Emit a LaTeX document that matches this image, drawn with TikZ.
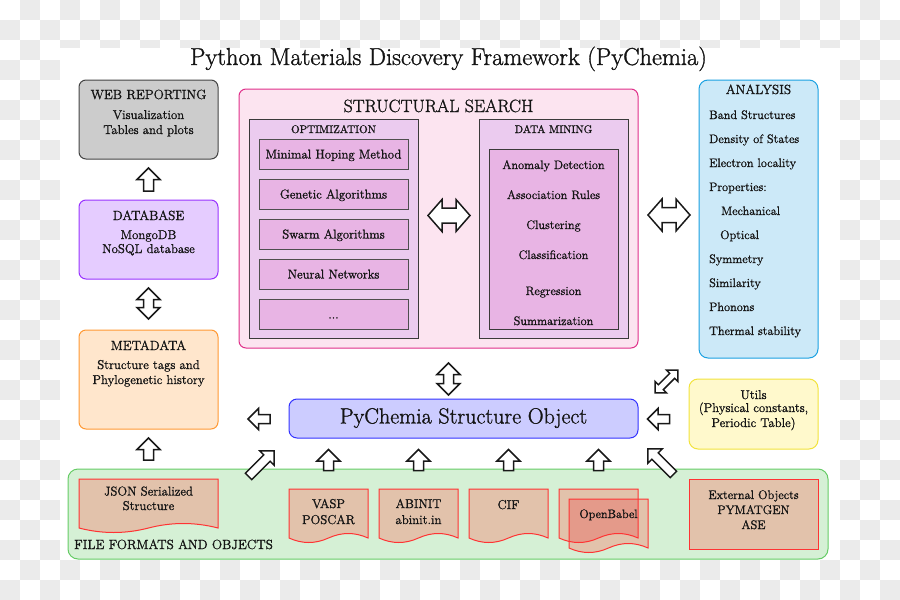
\documentclass[tikz,border=0pt]{standalone}
\usepackage{fontspec}
\setmainfont{Latin Modern Roman}[FakeBold=1.2]
\usetikzlibrary{calc}
\definecolor{chk}{HTML}{EBEBEB}
\definecolor{webF}{HTML}{CCCCCC}\definecolor{webD}{HTML}{444444}
\definecolor{dbF}{HTML}{E5CCFF}\definecolor{dbD}{HTML}{9933FF}
\definecolor{mdF}{HTML}{FFE6CC}\definecolor{mdD}{HTML}{FF9933}
\definecolor{ssF}{HTML}{FCE4F0}\definecolor{ssD}{HTML}{E0308A}
\definecolor{optF}{HTML}{EBCBEF}\definecolor{itemF}{HTML}{E8B4E4}\definecolor{grD}{HTML}{3A3A3A}
\definecolor{anF}{HTML}{CCE9F8}\definecolor{anD}{HTML}{1BA1E2}
\definecolor{utF}{HTML}{FFF9CC}\definecolor{utD}{HTML}{F2E33C}
\definecolor{pyF}{HTML}{CCCCFF}\definecolor{pyD}{HTML}{3333FF}
\definecolor{ffF}{HTML}{D5F0D5}\definecolor{ffD}{HTML}{66CC66}
\definecolor{docF}{HTML}{E2C2AB}\definecolor{docD}{HTML}{FF3333}\definecolor{obF}{HTML}{E49A8A}
\definecolor{ink}{HTML}{141414}
\newcommand\fsz[1]{\fontsize{#1}{#1}\selectfont}
% document shape path: x1, y1(top), x2
\newcommand\docp[3]{({#1},{#2}) -- ({#3},{#2}) -- ({#3},{#2+49})
  .. controls ({#3-(#3-#1)/6},{#2+43}) and ({(#1+#3)/2+(#3-#1)/6},{#2+43}) .. ({(#1+#3)/2},{#2+49})
  .. controls ({(#1+#3)/2-(#3-#1)/6},{#2+55}) and ({#1+(#3-#1)/6},{#2+55}) .. ({#1},{#2+49}) -- cycle}
% single block arrow: x, y, angle, length, head width, stem width
\newcommand\sarrow[6]{\begin{scope}[shift={(#1,#2)},rotate=#3]
 \filldraw[blk] (0,{-#4/2}) -- ({#5/2},{-#4/2+#5/2}) -- ({#6/2},{-#4/2+#5/2}) -- ({#6/2},{#4/2})
  -- ({-#6/2},{#4/2}) -- ({-#6/2},{-#4/2+#5/2}) -- ({-#5/2},{-#4/2+#5/2}) -- cycle;
\end{scope}}
% double block arrow: x, y, angle, length, head width, head length, stem width
\newcommand\darrow[7]{\begin{scope}[shift={(#1,#2)},rotate=#3]
 \filldraw[blk] (0,{-#4/2}) -- ({#5/2},{-#4/2+#6}) -- ({#7/2},{-#4/2+#6}) -- ({#7/2},{#4/2-#6})
  -- ({#5/2},{#4/2-#6}) -- (0,{#4/2}) -- ({-#5/2},{#4/2-#6}) -- ({-#7/2},{#4/2-#6})
  -- ({-#7/2},{-#4/2+#6}) -- ({-#5/2},{-#4/2+#6}) -- cycle;
\end{scope}}
\begin{document}
\begin{tikzpicture}[x=1pt,y=-1pt,
 box/.style={draw, line width=1pt, rounded corners=7pt, inner sep=0pt},
 sq/.style={draw, line width=1pt, inner sep=0pt},
 txt/.style={anchor=base, inner sep=0pt, text=ink, font=\fsz{12.8}},
 hd/.style={txt, font=\fsz{13.3}},
 sm/.style={txt, font=\fsz{11}},
 lt/.style={txt, anchor=base west, font=\fsz{12.3}},
 blk/.style={draw=black!90, fill=white, line width=1.5pt, line join=miter},
 doc/.style={draw=docD, line width=1pt}]
\useasboundingbox (0,0) rectangle (900,600);
% background checkerboard
\fill[white] (0,0) rectangle (900,600);
\foreach \i in {0,...,44}{\foreach \j in {0,...,29}{%
  \pgfmathparse{int(mod(\i+\j,2))}%
  \ifnum\pgfmathresult=1 \fill[chk] (\i*20,\j*20) rectangle ++(20,20);\fi}}
\fill[white] (60,48) rectangle (840,560);
% title
\node[txt, font=\fsz{24.5}] (title) at (448.5,65) {Python Materials Discovery Framework (PyChemia)};
% left column
\node[box, fill=webF, draw=webD, minimum width=139, minimum height=79] (web) at (148.5,119.5) {};
\node[hd] (webT) at (148.5,99) {WEB REPORTING};
\node[txt] (webA) at (148.5,119) {Visualization};
\node[txt] (webB) at (148.5,134) {Tables and plots};
\node[box, fill=dbF, draw=dbD, minimum width=139, minimum height=79] (db) at (148.5,239.5) {};
\node[hd] (dbT) at (148.5,220) {DATABASE};
\node[txt] (dbA) at (148.5,239) {MongoDB};
\node[txt] (dbB) at (148.5,253) {NoSQL database};
\node[box, fill=mdF, draw=mdD, minimum width=139, minimum height=99] (md) at (148.5,379.5) {};
\node[hd] (mdT) at (148.5,350) {METADATA};
\node[txt] (mdA) at (148.5,369) {Structure tags and};
\node[txt] (mdB) at (148.5,384) {Phylogenetic history};
% structural search
\node[box, fill=ssF, draw=ssD, minimum width=399, minimum height=259] (ss) at (438.5,218.5) {};
\node[txt, font=\fsz{17.8}] (ssT) at (438.5,112) {STRUCTURAL SEARCH};
\node[sq, fill=optF, draw=grD, minimum width=169, minimum height=219] (opt) at (333.5,228.5) {};
\node[sm] (optT) at (333.5,133) {OPTIMIZATION};
\foreach \n/\y/\t in {o1/154/Minimal Hoping Method, o2/194/Genetic Algorithms, o3/234/Swarm Algorithms, o4/274/Neural Networks}{
  \node[sq, fill=itemF, draw=grD!90, minimum width=149, minimum height=30] (\n) at (333.5,\y) {};
  \node[txt] (\n T) at (333.5,\y+4.5) {\t};
}
\node[sq, fill=itemF, draw=grD!90, minimum width=149, minimum height=30] (o5) at (333.5,314) {};
\node[txt] (o5T) at (333.5,318.5) {...};
\node[sq, fill=optF, draw=grD, minimum width=149, minimum height=219] (dm) at (553.5,228.5) {};
\node[sm] (dmT) at (553.5,133) {DATA MINING};
\node[sq, fill=itemF, draw=grD, minimum width=129, minimum height=180] (dmin) at (553.5,239) {};
\foreach \n/\y/\t in {d1/169/Anomaly Detection, d2/199/Association Rules, d3/229/Clustering, d4/259/Classification, d5/295/Regression, d6/325/Summarization}{
  \node[txt, font=\fsz{12.3}] (\n) at (553.5,\y) {\t};
}
% analysis
\node[box, fill=anF, draw=anD, rounded corners=9pt, minimum width=119, minimum height=278] (ana) at (758.5,219) {};
\node[hd] (anaT) at (758.5,94) {ANALYSIS};
\foreach \n/\x/\y/\t in {a1/709/119/Band Structures, a2/709/143/Density of States, a3/709/167/Electron locality, a4/709/191/Properties:, a5/721/215/Mechanical, a6/720/239/Optical, a7/709/263/Symmetry, a8/709/287/Similarity, a9/709/311/Phonons, a10/709/335/Thermal stability}{
  \node[lt] (\n) at (\x,\y) {\t};
}
% utils
\node[box, fill=utF, draw=utD, rounded corners=9pt, minimum width=129, minimum height=70] (ut) at (753.5,414) {};
\node[txt] (utA) at (753.5,399) {Utils};
\node[txt] (utB) at (753.5,412) {(Physical constants,};
\node[txt] (utC) at (753.5,427) {Periodic Table)};
% pychemia structure object
\node[box, fill=pyF, draw=pyD, rounded corners=8pt, minimum width=349, minimum height=39] (py) at (463.5,418.5) {};
\node[txt, font=\fsz{22}] (pyT) at (463.5,423.5) {PyChemia Structure Object};
% file formats
\node[box, fill=ffF, draw=ffD, rounded corners=10pt, minimum width=760, minimum height=90] (ff) at (448,514) {};
\node[txt, anchor=base west, font=\fsz{13.3}] (ffT) at (74,549) {FILE FORMATS AND OBJECTS};
\filldraw[doc, fill=docF] \docp{79}{479}{218};
\node[txt] (json) at (148.5,495.5) {JSON Serialized};
\node[txt] (json2) at (148.5,510) {Structure};
\filldraw[doc, fill=docF] \docp{289}{489}{368};
\node[txt] (vasp) at (328.5,508) {VASP};
\node[txt] (vasp2) at (328.5,524) {POSCAR};
\filldraw[doc, fill=docF] \docp{379}{489}{458};
\node[txt] (abinit) at (418.5,508) {ABINIT};
\node[txt] (abinit2) at (418.5,524) {abinit.in};
\filldraw[doc, fill=docF] \docp{469}{489}{548};
\node[txt] (cif) at (508.5,509) {CIF};
% openbabel: two overlapping documents
\fill[docF] \docp{559}{489}{638};
\fill[docF] \docp{569}{499}{648};
\begin{scope}
 \clip \docp{559}{489}{638};
 \fill[obF] \docp{569}{499}{648};
\end{scope}
\draw[doc] \docp{559}{489}{638};
\draw[doc] \docp{569}{499}{648};
\node[txt, font=\fsz{12.2}] (ob) at (608.5,518) {OpenBabel};
\node[sq, fill=docF, draw=docD, minimum width=129, minimum height=70] (ext) at (753.5,514) {};
\node[txt, font=\fsz{12.4}] (extA) at (753.5,499) {External Objects};
\node[txt, font=\fsz{12.4}] (extB) at (753.5,514) {PYMATGEN};
\node[txt, font=\fsz{12.4}] (extC) at (753.5,529) {ASE};
% block arrows
\sarrow{148.5}{179.5}{0}{23}{23}{10}
\darrow{148.5}{303.5}{0}{31}{23}{11.5}{10}
\sarrow{148.5}{449}{0}{22}{23}{10}
\darrow{449}{215.5}{90}{42}{32}{14}{15}
\darrow{669}{215}{90}{42}{32}{14}{15}
\darrow{448.5}{379}{0}{32}{23}{11.5}{10}
\darrow{666.5}{381.5}{-45}{32}{16}{8}{7}
\sarrow{259}{419}{90}{22}{21}{9}
\sarrow{658.5}{419}{90}{22}{21}{9}
\foreach \x in {328.5,418.5,508.5,598.5}{\sarrow{\x}{460}{0}{21}{23}{10}}
\sarrow{261.3}{463.7}{-45}{36}{20}{9}
\sarrow{660.7}{461.7}{45}{36}{20}{9}
\end{tikzpicture}
\end{document}
